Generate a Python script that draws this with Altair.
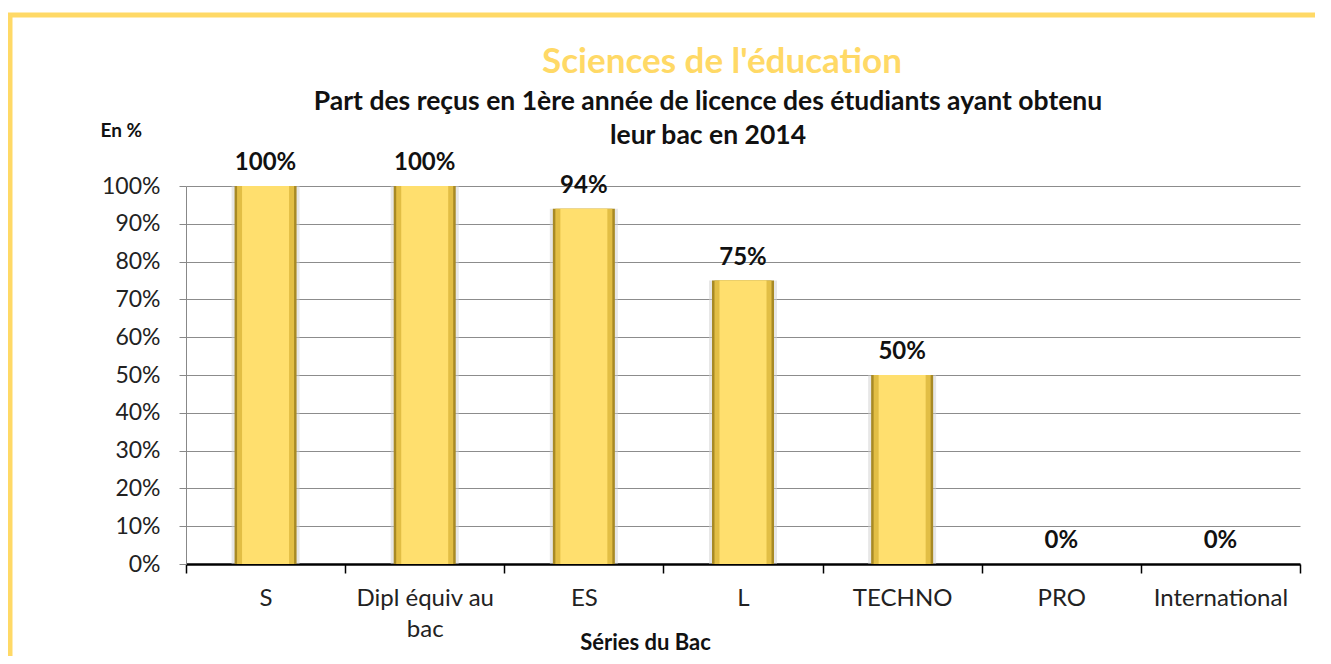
import altair as alt
import pandas as pd

categories = ["S", "Dipl équiv au bac", "ES", "L", "TECHNO", "PRO", "International"]
values = [1.00, 1.00, 0.94, 0.75, 0.50, 0.0, 0.0]
labels = ["100%", "100%", "94%", "75%", "50%", "0%", "0%"]

title_text = "Sciences de l'éducation"
subtitle_lines = ["Part des reçus en 1ère année de licence des étudiants ayant obtenu", "leur bac en 2014"]

df = pd.DataFrame({"cat": categories, "val": values, "lab": labels})

FONT = "Lato"
W, H = 1114, 378

x_enc = alt.X(
    "cat:N", sort=categories,
    scale=alt.Scale(paddingInner=0, paddingOuter=0),
    axis=alt.Axis(
        title="Séries du Bac", titleFontSize=22, titleFont=FONT, titleFontWeight="bold",
        titleColor="#111", titleX=459, titleY=78, titleBaseline="middle", titleAnchor="start", titleAlign="center",
        labelAngle=0, labelFontSize=24, labelFont=FONT, labelColor="#222", labelPadding=13,
        labelExpr="datum.value == 'Dipl équiv au bac' ? ['Dipl équiv au', 'bac'] : datum.value",
        labelLineHeight=31,
        tickBand="extent", tickColor="#000", tickSize=9, tickWidth=1.5,
        domainColor="#000", domainWidth=2.5, grid=False,
    ),
)
y_enc = alt.Y(
    "val:Q",
    scale=alt.Scale(domain=[0, 1]),
    axis=alt.Axis(
        title="En %", titleAngle=0, titleX=-86, titleY=-56, titleAlign="left", titleBaseline="middle",
        titleFontSize=19, titleFont=FONT, titleFontWeight="bold", titleColor="#111",
        format=".0%", values=[i / 10 for i in range(11)], labelFontSize=23, labelFont=FONT,
        labelColor="#222", labelPadding=19, tickSize=7, tickColor="#888", domainColor="#888",
        grid=True, gridColor="#8c8c8c", gridWidth=1,
    ),
)

base = alt.Chart(df)

shadow = base.mark_bar(size=68, color="#d0d0d0", opacity=0.5).encode(x=x_enc, y=y_enc)
outer = base.mark_bar(size=62, color="#A88A25").encode(x=x_enc, y=y_enc)
mid = base.mark_bar(size=57, color="#E2BE45").encode(x=x_enc, y=y_enc)
inner = base.mark_bar(size=47, color="#FFDF6E").encode(x=x_enc, y=y_enc)
text = base.mark_text(dy=-23, fontSize=24, fontWeight="bold", font=FONT, color="#111").encode(
    x=x_enc, y=y_enc, text="lab:N"
)

one = pd.DataFrame({"a": [0]})
border = alt.Chart(one).mark_rect(
    fill=None, stroke="#FFD966", strokeWidth=5
).encode(x=alt.value(-176), x2=alt.value(1200), y=alt.value(-171), y2=alt.value(520))

title_mark = alt.Chart(pd.DataFrame({"t": [title_text]})).mark_text(
    font=FONT, fontSize=35, fontWeight="bold", color="#FFD966", baseline="middle"
).encode(text="t:N", x=alt.value(536), y=alt.value(-124))

sub1 = alt.Chart(pd.DataFrame({"t": [subtitle_lines[0]]})).mark_text(
    font=FONT, fontSize=26.5, fontWeight="bold", color="#111", baseline="middle"
).encode(text="t:N", x=alt.value(522), y=alt.value(-84))
sub2 = alt.Chart(pd.DataFrame({"t": [subtitle_lines[1]]})).mark_text(
    font=FONT, fontSize=26.5, fontWeight="bold", color="#111", baseline="middle"
).encode(text="t:N", x=alt.value(522), y=alt.value(-50))

chart = alt.layer(shadow, outer, mid, inner, text, border, title_mark, sub1, sub2).properties(
    width=W, height=H,
    padding={"left": 178, "top": 178, "right": 15, "bottom": 92},
    autosize=alt.AutoSizeParams(type="none"),
).configure_view(stroke=None)

chart.save("out.html", embed_options={"renderer": "svg", "actions": False})
